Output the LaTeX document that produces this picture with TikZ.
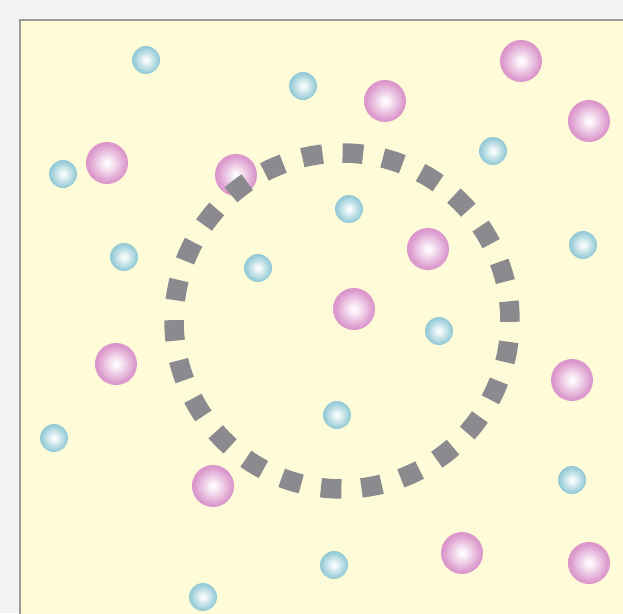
\documentclass[tikz,border=0pt]{standalone}
\usetikzlibrary{calc}
\definecolor{outerbg}{HTML}{F2F2F2}
\definecolor{paper}{HTML}{FEFBD8}
\definecolor{framegray}{HTML}{9A9A9A}
\definecolor{dashgray}{HTML}{8A8A8F}
\definecolor{pinkedge}{HTML}{CC6CB6}
\definecolor{cyanedge}{HTML}{6AB6C6}
\pgfdeclareradialshading{pinkball}{\pgfpoint{0bp}{0bp}}{%
  color(0bp)=(white); color(5bp)=(white!88!pinkedge); color(22bp)=(pinkedge!68!white); color(38bp)=(pinkedge!88!white); color(50bp)=(pinkedge)}
\pgfdeclareradialshading{cyanball}{\pgfpoint{0bp}{0bp}}{%
  color(0bp)=(white); color(5bp)=(white!88!cyanedge); color(22bp)=(cyanedge!68!white); color(38bp)=(cyanedge!88!white); color(50bp)=(cyanedge)}
\tikzset{
  pinksphere/.style={circle, minimum size=42pt, inner sep=0pt, shading=pinkball, draw=none},
  cyansphere/.style={circle, minimum size=28pt, inner sep=0pt, shading=cyanball, draw=none},
  ringdash/.style={draw=dashgray, line width=19.5pt, line cap=butt}
}
\begin{document}
\begin{tikzpicture}[x=1pt,y=-1pt]
\useasboundingbox (0,0) rectangle (623,613);
\fill[outerbg] (0,0) rectangle (623,613);
\fill[paper] (20,20) rectangle (630,620);
\draw[framegray, line width=1.6pt] (20,630) -- (20,20) -- (630,20);
% cyan spheres
\foreach \x/\y [count=\i] in {146/60, 303/86, 63/174, 493/151, 349/209, 124/257, 258/268, 583/245, 439/331, 54/438, 337/415, 572/480, 334/565, 203/597}
  \node[cyansphere] (c\i) at (\x,\y) {};
% pink spheres
\foreach \x/\y [count=\i] in {521/61, 385/101, 589/121, 107/163, 236/175, 428/249, 354/309, 116/364, 572/380, 213/486, 462/553, 589/563}
  \node[pinksphere] (p\i) at (\x,\y) {};
% dashed ring
\coordinate (ringc) at (342,321);
\foreach \k in {0,...,25}{
  \pgfmathsetmacro{\a}{86.3+\k*360/26}
  \draw[ringdash] ($(ringc)+({\a-3.5}:168 and -168)$) arc[start angle={-(\a-3.5)}, end angle={-(\a+3.5)}, radius=168];
}
\end{tikzpicture}
\end{document}
